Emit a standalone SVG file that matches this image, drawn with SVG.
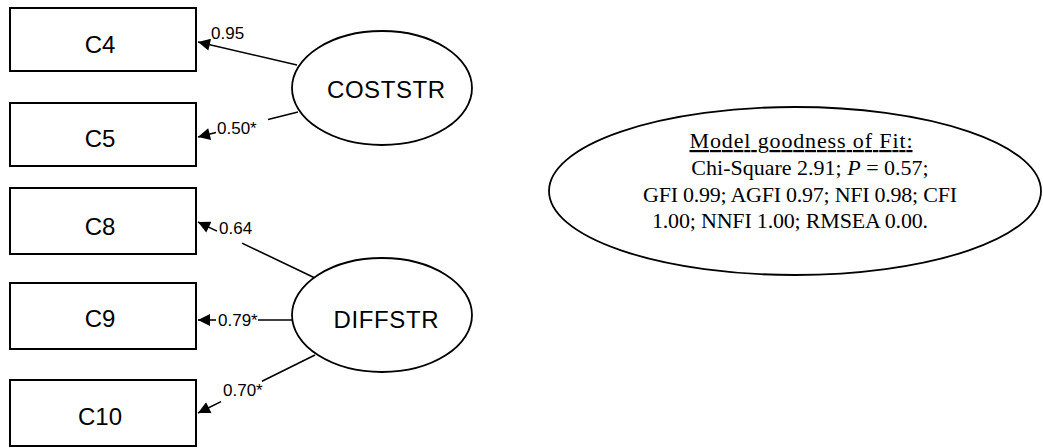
<svg xmlns="http://www.w3.org/2000/svg" width="1043" height="448" viewBox="0 0 1043 448">
<style>
.box{fill:#fff;stroke:#000;stroke-width:2}
.lat{fill:#fff;stroke:#000;stroke-width:1.8}
.bl{font-family:"Liberation Sans",Arial,sans-serif;font-size:24px;text-anchor:middle;fill:#000}
.con{stroke:#000;stroke-width:1.6;fill:none}
.lbl{font-family:"Liberation Sans",Arial,sans-serif;font-size:17px;fill:#000}
.fit{font-family:"Liberation Serif","Times New Roman",serif;font-size:22px;text-anchor:middle;fill:#000}
</style>
<defs>
<marker id="ah" viewBox="0 0 10 10" refX="10" refY="5" markerWidth="16" markerHeight="12" markerUnits="userSpaceOnUse" orient="auto">
<path d="M0,0 L10,5 L0,10 z" fill="#000"/>
</marker>
</defs>
<g id="connectors">
<line class="con" x1="297" y1="65" x2="198" y2="42" marker-end="url(#ah)"/>
<line class="con" x1="298" y1="112" x2="268" y2="119.5"/>
<line class="con" x1="216" y1="132.5" x2="198" y2="137" marker-end="url(#ah)"/>
<line class="con" x1="315" y1="278" x2="242" y2="243.1"/>
<line class="con" x1="217" y1="231.1" x2="198" y2="222" marker-end="url(#ah)"/>
<line class="con" x1="292" y1="320" x2="258" y2="320"/>
<line class="con" x1="216" y1="320" x2="198" y2="320" marker-end="url(#ah)"/>
<line class="con" x1="315" y1="355" x2="262" y2="381.3"/>
<line class="con" x1="221" y1="401.6" x2="198" y2="413" marker-end="url(#ah)"/>
<text class="lbl" x="211" y="39">0.95</text>
<text class="lbl" x="217" y="134">0.50*</text>
<text class="lbl" x="219" y="234">0.64</text>
<text class="lbl" x="218" y="326">0.79*</text>
<text class="lbl" x="223" y="396">0.70*</text>
</g>
<g id="C4"><rect class="box" x="10" y="8" width="186" height="63"/><text class="bl" x="100" y="53">C4</text></g>
<g id="C5"><rect class="box" x="10" y="103" width="186" height="63"/><text class="bl" x="100" y="147">C5</text></g>
<g id="C8"><rect class="box" x="10" y="188" width="186" height="66"/><text class="bl" x="100" y="235">C8</text></g>
<g id="C9"><rect class="box" x="10" y="283" width="186" height="66"/><text class="bl" x="100" y="327">C9</text></g>
<g id="C10"><rect class="box" x="10" y="380" width="186" height="66"/><text class="bl" x="100" y="425">C10</text></g>
<g id="COSTSTR"><ellipse class="lat" cx="382" cy="88" rx="90" ry="57"/><text class="bl" x="386" y="98" textLength="118">COSTSTR</text></g>
<g id="DIFFSTR"><ellipse class="lat" cx="382" cy="315" rx="90" ry="57"/><text class="bl" x="386" y="328" textLength="105">DIFFSTR</text></g>
<g id="fit">
<ellipse class="lat" cx="795" cy="191" rx="246" ry="84"/>
<text class="fit" x="801" y="148" font-size="24" text-decoration="underline" textLength="223">Model goodness of Fit:</text>
<text class="fit" x="810" y="175">Chi-Square 2.91; <tspan font-style="italic">P</tspan> = 0.57;</text>
<text class="fit" x="800" y="202" textLength="314">GFI 0.99; AGFI 0.97; NFI 0.98; CFI</text>
<text class="fit" x="790" y="228" textLength="276">1.00; NNFI 1.00; RMSEA 0.00.</text>
</g>
</svg>
